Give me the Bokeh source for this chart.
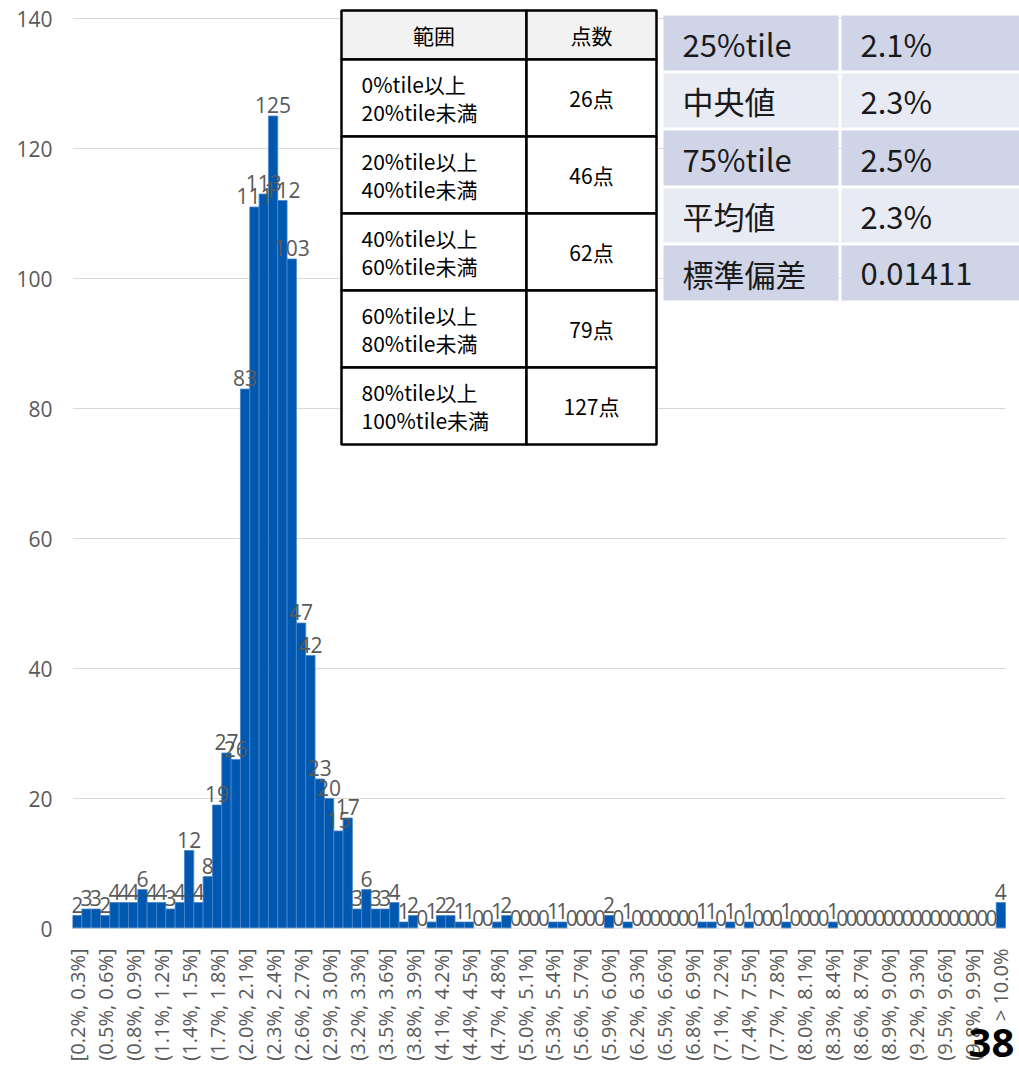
import math
from bokeh.plotting import figure
from bokeh.models import FixedTicker, Label, Range1d
from bokeh.core.properties import value
from bokeh.embed import file_html
from bokeh.resources import INLINE

# ---------------- data ----------------
counts = [2, 3, 3, 2, 4, 4, 4, 6, 4, 4,
          3, 4, 12, 4, 8, 19, 27, 26, 83, 111,
          113, 125, 112, 103, 47, 42, 23, 20, 15, 17,
          3, 6, 3, 3, 4, 1, 2, 0, 1, 2,
          2, 1, 1, 0, 0, 1, 2, 0, 0, 0,
          0, 1, 1, 0, 0, 0, 0, 2, 0, 1,
          0, 0, 0, 0, 0, 0, 0, 1, 1, 0,
          1, 0, 1, 0, 0, 0, 1, 0, 0, 0,
          0, 1, 0, 0, 0, 0, 0, 0, 0, 0,
          0, 0, 0, 0, 0, 0, 0, 0, 0, 4]

tick_labels = ["[0.2%, 0.3%]", "(0.5%, 0.6%]", "(0.8%, 0.9%]", "(1.1%, 1.2%]",
               "(1.4%, 1.5%]", "(1.7%, 1.8%]", "(2.0%, 2.1%]", "(2.3%, 2.4%]",
               "(2.6%, 2.7%]", "(2.9%, 3.0%]", "(3.2%, 3.3%]", "(3.5%, 3.6%]",
               "(3.8%, 3.9%]", "(4.1%, 4.2%]", "(4.4%, 4.5%]", "(4.7%, 4.8%]",
               "(5.0%, 5.1%]", "(5.3%, 5.4%]", "(5.6%, 5.7%]", "(5.9%, 6.0%]",
               "(6.2%, 6.3%]", "(6.5%, 6.6%]", "(6.8%, 6.9%]", "(7.1%, 7.2%]",
               "(7.4%, 7.5%]", "(7.7%, 7.8%]", "(8.0%, 8.1%]", "(8.3%, 8.4%]",
               "(8.6%, 8.7%]", "(8.9%, 9.0%]", "(9.2%, 9.3%]", "(9.5%, 9.6%]",
               "(9.8%, 9.9%]", "> 10.0%"]

y_ticks = [0, 20, 40, 60, 80, 100, 120, 140]

range_header = ["範囲", "点数"]
range_line1 = ["0%tile以上", "20%tile以上", "40%tile以上", "60%tile以上", "80%tile以上"]
range_line2 = ["20%tile未満", "40%tile未満", "60%tile未満", "80%tile未満", "100%tile未満"]
range_counts = ["26点", "46点", "62点", "79点", "127点"]

stat_names = ["25%tile", "中央値", "75%tile", "平均値", "標準偏差"]
stat_values = ["2.1%", "2.3%", "2.5%", "2.3%", "0.01411"]

page_number = "38"

# ---------------- layout helpers (pixel -> data) ----------------
PXU = 9.33      # px per bin
PYU = 6.5       # px per count
FRAME_L, FRAME_B, FRAME_T = 72, 928, 8
CANVAS_W, CANVAS_H = 1019, 1071
FRAME_W = CANVAS_W - FRAME_L
FRAME_H = FRAME_B - FRAME_T


def dx(px):
    return -0.5 + (px - FRAME_L) / PXU


def dy(py):
    return (FRAME_B - py) / PYU


n = len(counts)
xs = list(range(n))

p = figure(frame_width=FRAME_W, frame_height=FRAME_H,
           x_range=Range1d(-0.5, dx(CANVAS_W)),
           y_range=Range1d(0, dy(FRAME_T)),
           output_backend="svg", toolbar_location=None,
           min_border_left=FRAME_L, min_border_right=0, min_border_top=FRAME_T,
           min_border_bottom=CANVAS_H - FRAME_B, outline_line_color=None,
           background_fill_color="white", border_fill_color="white")

p.xgrid.visible = False
p.ygrid.visible = False

GRID = "#d9d9d9"
p.segment(x0=[-0.5] * len(y_ticks[1:]), x1=[n - 0.5] * len(y_ticks[1:]),
          y0=y_ticks[1:], y1=y_ticks[1:], line_color=GRID, line_width=1)

# bars
nz_x = [x for x, c in zip(xs, counts) if c > 0]
nz_c = [c for c in counts if c > 0]
p.vbar(x=nz_x, top=nz_c, width=1.0, bottom=0,
       fill_color="#0058b0", line_color="#4a86cc", line_width=0.8)

# baseline
p.segment(x0=[-0.5], x1=[n - 0.5], y0=[0], y1=[0], line_color=GRID, line_width=1.5)

# data labels
p.text(x=xs, y=counts, text=[str(c) for c in counts],
       text_align="center", text_baseline="bottom", y_offset=-3,
       text_color="#595959", text_font=value("Open Sans"),
       text_font_size="21px")

# axes
p.yaxis.ticker = FixedTicker(ticks=y_ticks)
p.yaxis.axis_line_color = None
p.yaxis.major_tick_line_color = None
p.yaxis.minor_tick_line_color = None
p.yaxis.major_label_standoff = 14
p.yaxis.major_label_text_color = "#595959"
p.yaxis.major_label_text_font = "Open Sans"
p.yaxis.major_label_text_font_size = "21px"

tick_pos = list(range(0, n, 3))
p.xaxis.ticker = FixedTicker(ticks=tick_pos)
p.xaxis.major_label_overrides = {t: lbl for t, lbl in zip(tick_pos, tick_labels)}
p.xaxis.major_label_orientation = math.pi / 2
p.xaxis.axis_line_color = None
p.xaxis.major_tick_line_color = None
p.xaxis.minor_tick_line_color = None
p.xaxis.major_label_standoff = 14
p.xaxis.major_label_text_color = "#595959"
p.xaxis.major_label_text_font = "Open Sans"
p.xaxis.major_label_text_font_size = "20px"

# ---------------- left table ----------------
JP = value("Noto Sans CJK JP")
tl, tm, tr = 341, 526, 656
row_edges = [10, 59, 136, 213, 290, 367, 444]
lefts, rights, tops, bottoms, fills = [], [], [], [], []
for r in range(len(row_edges) - 1):
    for (a, b) in [(tl, tm), (tm, tr)]:
        lefts.append(dx(a)); rights.append(dx(b))
        tops.append(dy(row_edges[r])); bottoms.append(dy(row_edges[r + 1]))
        fills.append("#f2f2f2" if r == 0 else "white")
p.quad(left=lefts, right=rights, top=tops, bottom=bottoms,
       fill_color=fills, line_color="black", line_width=2.5)

p.text(x=[dx((tl + tm) / 2), dx((tm + tr) / 2)],
       y=[dy((row_edges[0] + row_edges[1]) / 2)] * 2,
       text=range_header, text_align="center", text_baseline="middle",
       text_font=JP, text_font_size="21px", text_color="black")
row_mid = [(row_edges[i + 1] + row_edges[i + 2]) / 2 for i in range(len(range_line1))]
p.text(x=[dx(361)] * len(range_line1), y=[dy(m - 14) for m in row_mid],
       text=range_line1, text_align="left", text_baseline="middle",
       text_font=JP, text_font_size="21px", text_color="black")
p.text(x=[dx(361)] * len(range_line2), y=[dy(m + 14) for m in row_mid],
       text=range_line2, text_align="left", text_baseline="middle",
       text_font=JP, text_font_size="21px", text_color="black")
p.text(x=[dx((tm + tr) / 2)] * len(range_counts), y=[dy(m) for m in row_mid],
       text=range_counts, text_align="center", text_baseline="middle",
       text_font=JP, text_font_size="21px", text_color="black")

# ---------------- right table ----------------
c1a, c1b, c2a, c2b = 663, 838, 841, 1019
srows = [(15, 70), (73, 127), (130, 185), (188, 242), (245, 300)]
sl, sr, st, sb, sf = [], [], [], [], []
for i, (a, b) in enumerate(srows):
    col = "#cfd5e7" if i % 2 == 0 else "#e8ebf4"
    for (l, r) in [(c1a, c1b), (c2a, c2b)]:
        sl.append(dx(l)); sr.append(dx(r)); st.append(dy(a)); sb.append(dy(b)); sf.append(col)
p.quad(left=sl, right=sr, top=st, bottom=sb, fill_color=sf, line_color=None)
smid = [(a + b) / 2 for a, b in srows]
p.text(x=[dx(682)] * len(stat_names), y=[dy(m) for m in smid], text=stat_names,
       text_align="left", text_baseline="middle", text_font=JP,
       text_font_size="31px", text_color="#1a1a1a")
p.text(x=[dx(860)] * len(stat_values), y=[dy(m) for m in smid], text=stat_values,
       text_align="left", text_baseline="middle", text_font=JP,
       text_font_size="31px", text_color="#1a1a1a")

# page number; placed in the bottom panel so it is not clipped to the frame
p.add_layout(Label(x=dx(968), y=dy(1028), text=page_number, text_font_style="bold",
                   text_font="Noto Sans", text_font_size="40px", text_color="black",
                   text_baseline="top"), "below")

open("out.html", "w").write(file_html(p, INLINE))
